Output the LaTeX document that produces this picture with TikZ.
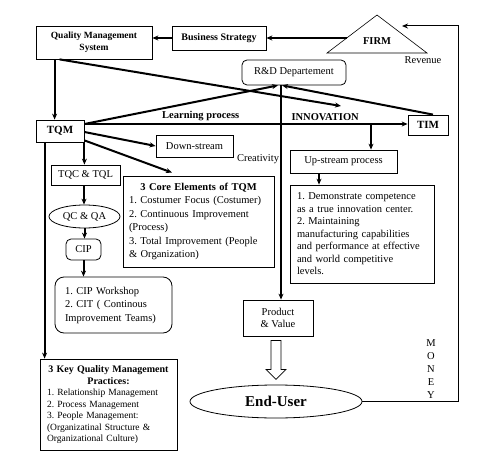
\documentclass[tikz,border=0pt]{standalone}
\usepackage{fontspec}
\setmainfont{Liberation Serif}
\usetikzlibrary{arrows.meta,calc,shapes.geometric}
\frenchspacing
\tikzset{
>={Stealth[length=6pt,width=5pt]},
base/.style={font=\fontsize{10.5}{12.5}\selectfont},
heavy/.style={font=\fontsize{10}{12}\selectfont\bfseries},
plain box/.style={draw,line width=0.8pt,inner sep=2pt},
round box/.style={plain box,rounded corners=5pt},
oval/.style={draw,ellipse,line width=0.8pt,inner sep=0pt},
flow arrow/.style={->,line width=2pt},
thin arrow/.style={->,line width=1pt}}

\begin{document}
\begin{tikzpicture}[x=1pt,y=-1pt]
\useasboundingbox (0,0) rectangle (498,460);

\node[plain box,heavy,font=\fontsize{9.5}{12}\selectfont\bfseries,align=center,minimum width=116,minimum height=33] (qms) at (94,42.5) {Quality Management\\System};
\node[plain box,heavy,minimum width=94,minimum height=24] (bs) at (219,38) {Business Strategy};
\node[heavy,font=\fontsize{10.5}{13}\selectfont\bfseries] (firm) at (377,41) {FIRM};
\node[base] (rev) at (423,60) {Revenue};
\node[round box,base,minimum width=104,minimum height=25] (rd) at (294,72.5) {R\&D Departement};
\node[plain box,heavy,font=\fontsize{11}{13}\selectfont\bfseries,minimum width=48,minimum height=22] (tqm) at (60,131) {TQM};
\node[plain box,heavy,font=\fontsize{11}{13}\selectfont\bfseries,minimum width=40,minimum height=20] (tim) at (428,125) {TIM};
\node[plain box,base,minimum width=77,minimum height=22] (down) at (194.5,146) {Down-stream};
\node[base] (crea) at (258,159) {Creativity};
\node[plain box,base,minimum width=107,minimum height=23] (up) at (343.5,161.5) {Up-stream process};
\node[plain box,base,inner xsep=7pt,text width=130,minimum height=98,align=left] (uplist) at (362,234) {1. Demonstrate competence\\as a true innovation center.\\2. Maintaining\\manufacturing capabilities\\and performance at effective\\and world competitive\\levels.};
\node[plain box,base,font=\fontsize{10.5}{13.5}\selectfont,inner xsep=6pt,text width=139,minimum height=91,align=left] (core) at (198.5,221.5) {{\centering\bfseries 3 Core Elements of TQM\par}1. Costumer Focus (Costumer)\\2. Continuous Improvement\\(Process)\\3. Total Improvement (People\\\& Organization)};
\node[plain box,base,minimum width=69,minimum height=20] (tqc) at (85.5,175) {TQC \& TQL};
\node[oval,base,minimum width=71,minimum height=23] (qcqa) at (84.5,216.5) {QC \& QA};
\node[round box,base,minimum width=35,minimum height=21] (cip) at (83.5,249.5) {CIP};
\node[round box,base,font=\fontsize{10.5}{13.5}\selectfont,rounded corners=9pt,inner xsep=10pt,text width=97,minimum height=56,align=left] (ciplist) at (113.5,305) {1. CIP Workshop\\2. CIT ( Continous\\Improvement Teams)};
\node[plain box,font=\fontsize{9.5}{11.5}\selectfont,inner xsep=7pt,text width=123,minimum height=91,align=left] (keyq) at (108.5,404.5) {{\centering\bfseries\fontsize{10}{12}\selectfont 3 Key Quality Management\\Practices:\par}1. Relationship Management\\2. Process Management\\3. People Management:\\(Organizatinal Structure \&\\Organizational Culture)};
\node[plain box,base,align=center,minimum width=70,minimum height=36] (pv) at (278,318) {Product\\\& Value};
\node[oval,font=\fontsize{15}{18}\selectfont\bfseries,minimum width=172,minimum height=33] (eu) at (276,401.5) {End-User};
\node[base,align=center,font=\fontsize{10.5}{13}\selectfont] (money) at (431,369) {M\\O\\N\\E\\Y};

\draw[line width=0.6pt] (327,53) -- (377,15) -- (427,53) -- cycle;
\coordinate (firmL) at (347,38);
\coordinate (firmR) at (402,26);
\coordinate (innov) at (341,106);
\coordinate (split) at (371,124);

\path[flow arrow] (firmL) edge (bs.east);
\path[flow arrow] (bs.west) edge (bs.west -| qms.east);
\path[flow arrow] ($(qms.south west)+(19,0)$) edge ($(tqm.north west)+(19,0)$);
\path[flow arrow] ($(qms.south west)+(24,0)$) edge (innov);
\path[flow arrow] ([yshift=7pt]tqm.east) edge ([xshift=-16pt]rd.south);
\path[flow arrow] ([xshift=5pt]tim.north) edge ([xshift=-12pt]rd.south);
\path[flow arrow] ([yshift=7pt]tqm.east) edge node[heavy,font=\fontsize{10.5}{12}\selectfont\bfseries,above,pos=0.36,inner sep=2pt] {Learning process} node[heavy,font=\fontsize{10.5}{12}\selectfont\bfseries,above,pos=0.745,inner sep=2pt] {INNOVATION} ([yshift=7pt]tqm.east -| tim.west);
\path[flow arrow] (split) edge (split |- up.north);
\path[flow arrow] ([xshift=-13pt]rd.south) edge ([xshift=-13pt]rd.south |- pv.north);
\path[flow arrow] ([xshift=-24.5pt]up.south) edge ([xshift=-24.5pt]up.south |- uplist.north);
\path[flow arrow] ([yshift=-1pt]tqm.east) edge (down.west);
\path[flow arrow] ([yshift=2pt]tqm.south east) edge ([xshift=-26.5pt,yshift=3pt]core.north);
\path[flow arrow] (tqm.south east) edge (tqm.south east |- tqc.north);
\path[flow arrow] ([xshift=-1.5pt]tqc.south) edge ([xshift=-0.5pt]qcqa.north);
\path[flow arrow] (qcqa.south) edge (qcqa.south |- cip.north);
\path[flow arrow] (cip.south) edge (cip.south |- ciplist.north);
\path[flow arrow] ([xshift=9pt]tqm.south west) edge ([xshift=9pt]tqm.south west |- keyq.north);
\draw[thin arrow] (eu.east) -| ([xshift=56pt]firmR) -- (firmR);

\draw[line width=0.8pt] ($(pv.south)+(-7,4)$) -- ++(10,0) -- ++(0,29) -- ++(5,0) -- ($(pv.south)+(-2,43)$) -- ($(pv.south)+(-12,33)$) -- ++(5,0) -- cycle;

\end{tikzpicture}
\end{document}
